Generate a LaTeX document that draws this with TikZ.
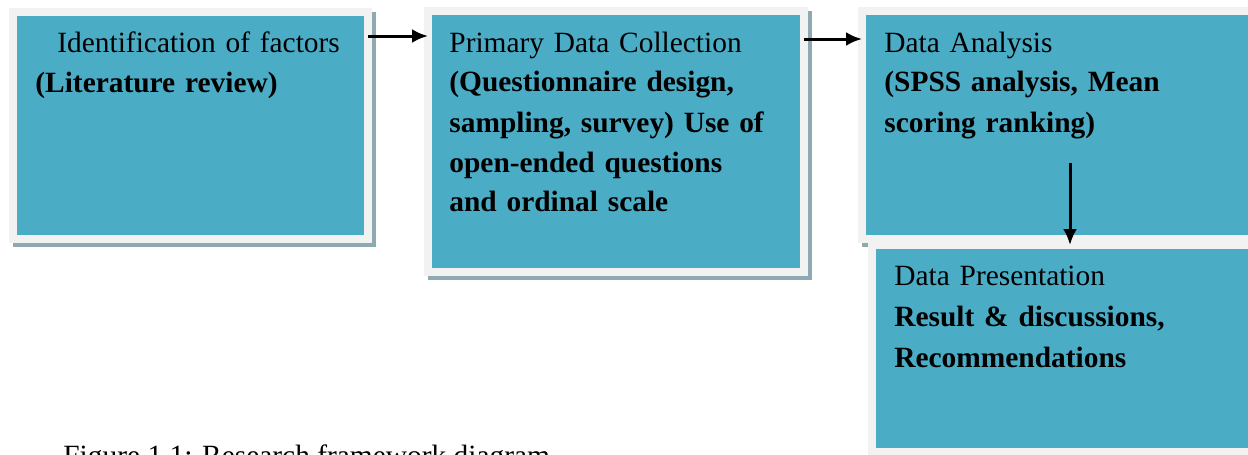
\documentclass[tikz,border=0pt]{standalone}
\usepackage{fontspec}
\setmainfont{Liberation Serif}
\usetikzlibrary{arrows.meta,fit}
\definecolor{boxteal}{HTML}{4BACC6}
\definecolor{boxborder}{HTML}{F2F2F2}
\definecolor{boxshadow}{HTML}{8FA9B3}
\begin{document}
\begin{tikzpicture}[x=0.5pt,y=-0.5pt,
  box/.style={draw=boxborder, fill=boxteal, line width=4pt, rectangle,
    inner sep=0pt, outer sep=0pt,
    preaction={draw=boxshadow, fill=boxshadow, transform canvas={shift={(1.75pt,-2pt)}}}},
  txt/.style={anchor=base west, inner sep=0pt, text width=300pt, align=left,
    font=\fontsize{14.7}{20}\selectfont},
  captxt/.style={anchor=base west, inner sep=0pt, font=\fontsize{14.7}{20}\selectfont},
  arr/.style={-{Latex[length=8pt,width=7pt]}, line width=1.5pt, black}]
\useasboundingbox (0,0) rectangle (1248,455);
\clip (0,0) rectangle (1248,455);
\fill[white] (0,0) rectangle (1248,455);
% boxes
\node[box, fit={(13,12) (368,239)}] (b1) {};
\node[box, fit={(428,11) (804,272)}] (b2) {};
\node[box, fit={(862,11) (1264,239)}] (b3) {};
\node[box, fit={(872,245) (1264,452)}] (b4) {};
% texts
\node[txt] (t1a) at (57,52) {Identification of factors};
\node[txt] (t1b) at (35,92) {\textbf{(Literature review)}};
\node[txt] (t2) at (449,52) {Primary Data Collection\\
  \textbf{(Questionnaire design,}\\
  \textbf{sampling, survey) Use of}\\
  \textbf{open-ended questions}\\
  \textbf{and ordinal scale}};
\node[txt] (t3) at (884,52) {Data Analysis\\
  \textbf{(SPSS analysis, Mean}\\
  \textbf{scoring ranking)}};
\node[txt, font=\fontsize{14.7}{20.5}\selectfont] (t4) at (894,285) {Data Presentation\\
  \textbf{Result \& discussions,}\\
  \textbf{Recommendations}};
\node[captxt] (cap) at (63,465) {Figure 1.1: Research framework diagram};
% connectors
\draw[arr] (b1.east |- 0,36) -- (b2.west |- 0,36);
\draw[arr] (b2.east |- 0,39) -- (b3.west |- 0,39);
\coordinate (a3) at (1070,163);
\draw[arr] (a3) -- (a3 |- b4.north);
\end{tikzpicture}
\end{document}
